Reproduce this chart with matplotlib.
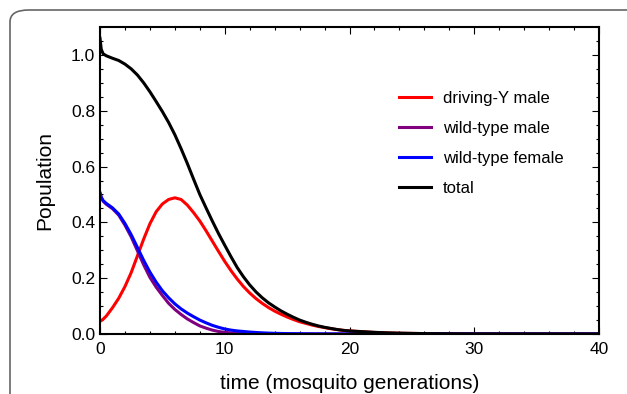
import matplotlib
matplotlib.use("Agg")
import matplotlib.pyplot as plt
from matplotlib.patches import FancyBboxPatch
from matplotlib.ticker import MultipleLocator, FormatStrFormatter

plt.rcParams['font.family'] = ['Liberation Sans', 'DejaVu Sans']

t = [0, 0.1, 0.25, 0.5, 1, 1.5, 2, 2.5, 3, 3.5, 4, 4.5, 5, 5.5, 6, 6.5, 7, 7.5, 8,
     8.5, 9, 9.5, 10, 10.5, 11, 11.5, 12, 12.5, 13, 13.5, 14, 14.5, 15, 15.5, 16,
     16.5, 17, 17.5, 18, 18.5, 19, 19.5, 20, 21, 22, 23, 24, 26, 28, 30, 35, 40]

driving_y_male = [0.045, 0.048, 0.053, 0.064, 0.094, 0.128, 0.17, 0.22, 0.28, 0.34,
                  0.395, 0.438, 0.466, 0.482, 0.488, 0.482, 0.462, 0.435, 0.405, 0.37,
                  0.333, 0.296, 0.26, 0.227, 0.197, 0.17, 0.147, 0.127, 0.11, 0.095,
                  0.082, 0.071, 0.061, 0.052, 0.044, 0.038, 0.032, 0.027, 0.023, 0.019,
                  0.016, 0.013, 0.011, 0.008, 0.0055, 0.004, 0.0028, 0.0014, 0.0007,
                  0.0003, 0.00005, 0.0]

wild_type_male = [0.505, 0.49, 0.476, 0.465, 0.449, 0.426, 0.39, 0.348, 0.298, 0.248,
                  0.203, 0.168, 0.138, 0.11, 0.088, 0.07, 0.054, 0.041, 0.029, 0.021,
                  0.014, 0.009, 0.006, 0.004, 0.003, 0.002, 0.0015, 0.001, 0.0007, 0.0005,
                  0.0003, 0.0002, 0.0001, 0.0001, 0, 0, 0, 0, 0, 0,
                  0, 0, 0, 0, 0, 0, 0, 0, 0, 0, 0, 0]

wild_type_female = [0.505, 0.49, 0.478, 0.468, 0.452, 0.43, 0.396, 0.356, 0.31, 0.264,
                    0.222, 0.186, 0.155, 0.13, 0.108, 0.09, 0.075, 0.062, 0.05, 0.04,
                    0.031, 0.024, 0.018, 0.014, 0.011, 0.009, 0.007, 0.0055, 0.0042, 0.0032,
                    0.0025, 0.002, 0.0015, 0.0012, 0.001, 0.0008, 0.0006, 0.0005, 0.0004, 0.0003,
                    0.0003, 0.0002, 0.0002, 0.0001, 0.0001, 0, 0, 0, 0, 0, 0, 0]

total = [1.06, 1.02, 1.004, 0.997, 0.988, 0.98, 0.967, 0.95, 0.928, 0.9,
         0.868, 0.833, 0.797, 0.758, 0.714, 0.664, 0.611, 0.555, 0.5, 0.452,
         0.405, 0.36, 0.318, 0.277, 0.238, 0.205, 0.176, 0.151, 0.13, 0.112,
         0.097, 0.083, 0.071, 0.06, 0.05, 0.042, 0.035, 0.029, 0.024, 0.02,
         0.016, 0.013, 0.011, 0.0085, 0.006, 0.0042, 0.003, 0.0015, 0.0007, 0.0003,
         0.00005, 0.0]

labels = ["driving-Y male", "wild-type male", "wild-type female", "total"]
colors = ["#ff0000", "#800080", "#0000ff", "#000000"]

fig = plt.figure(figsize=(6.27, 3.94), dpi=100)

# rounded frame around the figure
frame = FancyBboxPatch((10 / 627, -0.2), 1.2, (384 / 394) + 0.2,
                       boxstyle="round,pad=0,rounding_size=0.03",
                       transform=fig.transFigure, fill=False,
                       edgecolor="#666666", linewidth=1.2, clip_on=False)
fig.patches.append(frame)

ax = fig.add_axes([100 / 627, 1 - 334 / 394, 499 / 627, 307 / 394])
for series, lab, col in zip([driving_y_male, wild_type_male, wild_type_female, total],
                            labels, colors):
    ax.plot(t, series, color=col, lw=2.2, label=lab)

ax.set_xlim(0, 40)
ax.set_ylim(0, 1.1)
ax.xaxis.set_major_locator(MultipleLocator(10))
ax.xaxis.set_minor_locator(MultipleLocator(2))
ax.yaxis.set_major_locator(MultipleLocator(0.2))
ax.yaxis.set_minor_locator(MultipleLocator(0.05))
ax.yaxis.set_major_formatter(FormatStrFormatter('%.1f'))
ax.tick_params(which='both', direction='in', top=True, right=True, labelsize=12.5,
               width=0.8)
ax.tick_params(axis='x', which='major', pad=6)
ax.tick_params(which='major', length=5)
ax.tick_params(which='minor', length=2.5)
for s in ax.spines.values():
    s.set_linewidth(1.5)

ax.set_xlabel("time (mosquito generations)", fontsize=15, labelpad=12)
ax.set_ylabel("Population", fontsize=15, labelpad=12)

leg = ax.legend(loc='upper left', bbox_to_anchor=(0.57, 0.84), frameon=False,
                fontsize=12, handlelength=1.9, handletextpad=0.7, labelspacing=0.9)

fig.savefig("out.png", dpi=100)
